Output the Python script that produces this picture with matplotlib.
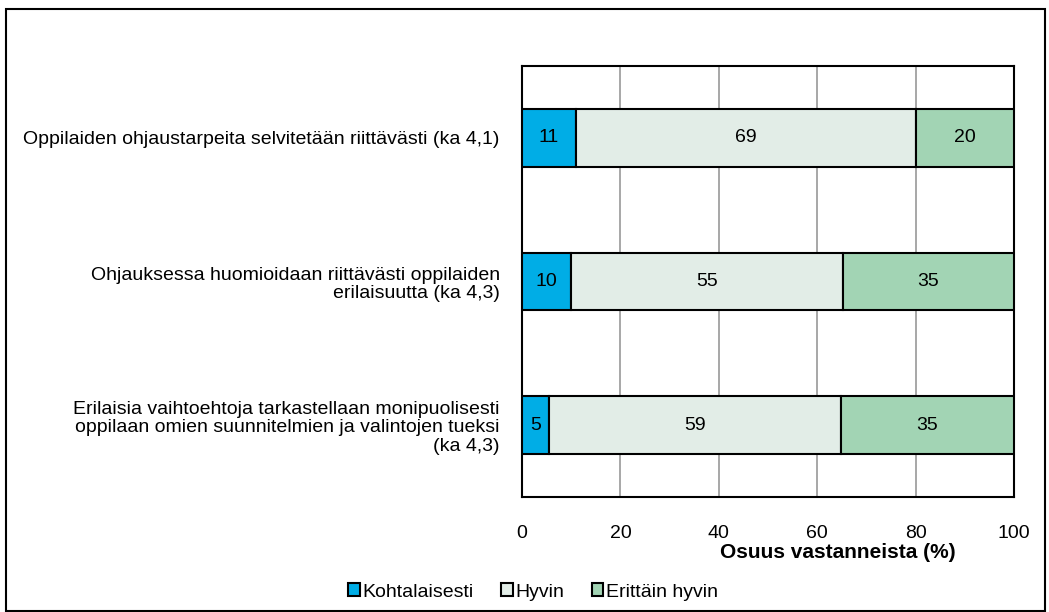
import matplotlib.pyplot as plt
from matplotlib.patches import Rectangle

plt.rcParams['font.family'] = ['Liberation Sans', 'DejaVu Sans']

questions = [
    "Oppilaiden ohjaustarpeita selvitetään riittävästi (ka 4,1)",
    "Ohjauksessa huomioidaan riittävästi oppilaiden\nerilaisuutta (ka 4,3)",
    "Erilaisia vaihtoehtoja tarkastellaan monipuolisesti\noppilaan omien suunnitelmien ja valintojen tueksi\n(ka 4,3)",
]
series_names = ["Kohtalaisesti", "Hyvin", "Erittäin hyvin"]
kohtalaisesti = [11.0, 10.0, 5.4]
hyvin = [69.0, 55.2, 59.4]
erittain_hyvin = [20.0, 34.8, 35.2]
colors = ["#00ADE6", "#E2EDE7", "#A2D4B4"]
fs = 14

fig = plt.figure(figsize=(10.49, 6.12), dpi=100)
ax = fig.add_axes([522 / 1049, 1 - 497 / 612, 492 / 1049, 431 / 612])

y = list(range(len(questions)))
left = [0] * len(questions)
for name, vals, col in zip(series_names, [kohtalaisesti, hyvin, erittain_hyvin], colors):
    bars = ax.barh(y, vals, left=left, height=0.4, color=col, edgecolor="black",
                   linewidth=1.5, label=name, zorder=3)
    for b, v in zip(bars, vals):
        ax.text(b.get_x() + b.get_width() / 2, b.get_y() + b.get_height() / 2, str(round(v)),
                ha="center", va="center", fontsize=fs, zorder=4)
    left = [l + v for l, v in zip(left, vals)]

ax.set_xlim(0, 100)
ax.set_ylim(len(questions) - 0.5, -0.5)
ax.set_xticks(range(0, 101, 20))
ax.set_yticks(y)
ax.set_yticklabels(questions, fontsize=fs, ha="right", multialignment="right",
                   linespacing=1.1)
ax.tick_params(axis="both", length=0, labelsize=fs)
ax.tick_params(axis="x", pad=20)
ax.tick_params(axis="y", pad=16)
ax.grid(axis="x", color="#A0A0A0", linewidth=1.3, zorder=0)
for s in ax.spines.values():
    s.set_linewidth(1.5)

ax.set_xlabel("Osuus vastanneista (%)", fontsize=fs + 1, fontweight="bold")
ax.xaxis.set_label_coords((838 - 522) / 492, -0.107)

ax.legend(loc="center", bbox_to_anchor=(533 / 1049, 1 - 592 / 612),
          bbox_transform=fig.transFigure, ncol=3, frameon=False, fontsize=fs,
          handlelength=0.6, handleheight=0.6, handletextpad=0.15, columnspacing=1.4,
          borderpad=0)

fig.patches.append(Rectangle((0.006, 0.002), 0.99, 0.984, transform=fig.transFigure,
                             fill=False, edgecolor="black", linewidth=1.5))

fig.savefig("out.png", dpi=100)
